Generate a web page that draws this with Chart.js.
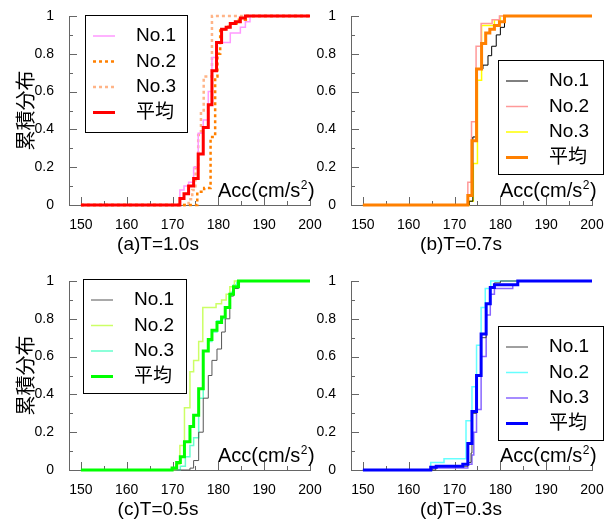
<!DOCTYPE html>
<html lang="ja">
<head>
  <meta charset="UTF-8" />
  <title>累積分布</title>
  <style>
    body {
      margin: 0;
      width: 605px;
      height: 525px;
      overflow: hidden;
      position: relative;
      background: #fff;
    }
    canvas {
      position: absolute;
    }
  </style>
</head>
<body>
  <canvas id="chartA" width="330" height="262" style="left:0;top:0"></canvas>
  <canvas id="chartB" width="303" height="262" style="left:302px;top:0"></canvas>
  <canvas id="chartC" width="330" height="262" style="left:0;top:265px"></canvas>
  <canvas id="chartD" width="303" height="262" style="left:302px;top:265px"></canvas>

  <script src="https://cdn.jsdelivr.net/npm/chart.js"></script>
  <script>
    const seriesNames = ['No.1', 'No.2', 'No.3', '平均'];
    const captions = ['(a)T=1.0s', '(b)T=0.7s', '(c)T=0.5s', '(d)T=0.3s'];
    const xTicks = [150, 160, 170, 180, 190, 200];
    const yTitle = '累積分布';

    // (a) T=1.0s
    const aNo1Acc = [150, 171.6, 172.5, 173.5, 174.6, 175.6, 176.7, 177.8, 178.6, 179.6, 182.6, 184.8, 185.9, 186.9, 200];
    const aNo1Cdf = [0, 0.08, 0.10, 0.12, 0.20, 0.38, 0.45, 0.60, 0.78, 0.86, 0.91, 0.94, 0.97, 1, 1];
    const aNo2Acc = [150, 175.4, 176.9, 178.3, 179.3, 179.8, 180.4, 182.2, 184.0, 186.0, 200];
    const aNo2Cdf = [0, 0.07, 0.09, 0.36, 0.68, 0.80, 0.93, 0.96, 0.98, 1, 1];
    const aNo3Acc = [150, 173.5, 174.3, 175.0, 175.6, 176.2, 176.8, 178.6, 200];
    const aNo3Cdf = [0, 0.03, 0.08, 0.20, 0.37, 0.50, 0.68, 1, 1];
    const aAvgAcc = [150, 171.6, 172.5, 173.5, 174.6, 175.6, 176.7, 177.8, 178.6, 179.6, 180.7, 181.7, 182.6, 183.7, 184.8, 185.9, 200];
    const aAvgCdf = [0, 0.035, 0.06, 0.10, 0.14, 0.27, 0.41, 0.53, 0.71, 0.86, 0.93, 0.94, 0.96, 0.97, 0.99, 1, 1];

    // (b) T=0.7s
    const bNo1Acc = [150, 173.2, 174.0, 174.8, 176.2, 177.3, 178.1, 179.1, 180.0, 180.9, 200];
    const bNo1Cdf = [0, 0.02, 0.36, 0.72, 0.74, 0.79, 0.84, 0.90, 0.94, 1, 1];
    const bNo2Acc = [150, 172.9, 173.7, 174.7, 175.8, 178.2, 179.8, 200];
    const bNo2Cdf = [0, 0.12, 0.44, 0.84, 0.96, 0.98, 1, 1];
    const bNo3Acc = [150, 173.2, 174.1, 175.0, 175.9, 178.7, 180.0, 200];
    const bNo3Cdf = [0, 0.02, 0.22, 0.66, 0.95, 0.98, 1, 1];
    const bAvgAcc = [150, 172.9, 173.8, 174.8, 175.9, 176.8, 177.7, 178.7, 179.8, 180.9, 200];
    const bAvgCdf = [0, 0.05, 0.34, 0.72, 0.855, 0.91, 0.93, 0.95, 0.97, 1, 1];

    // (c) T=0.5s
    const cNo1Acc = [150, 173.8, 174.6, 175.7, 176.7, 177.8, 178.6, 179.7, 180.7, 181.5, 182.5, 183.3, 184.4, 200];
    const cNo1Cdf = [0, 0.01, 0.05, 0.20, 0.38, 0.50, 0.58, 0.64, 0.73, 0.80, 0.92, 0.96, 1, 1];
    const cNo2Acc = [150, 170.7, 171.6, 172.6, 173.8, 174.6, 175.7, 176.6, 179.5, 180.7, 181.7, 182.5, 183.5, 200];
    const cNo2Cdf = [0, 0.03, 0.13, 0.33, 0.52, 0.58, 0.68, 0.86, 0.88, 0.90, 0.93, 0.97, 1, 1];
    const cNo3Acc = [150, 171.7, 172.8, 173.8, 174.6, 175.7, 176.7, 177.8, 178.6, 179.7, 180.7, 181.5, 182.5, 183.3, 184.0, 200];
    const cNo3Cdf = [0, 0.02, 0.07, 0.13, 0.17, 0.38, 0.63, 0.68, 0.73, 0.79, 0.80, 0.86, 0.94, 0.98, 1, 1];
    const cAvgAcc = [150, 169.9, 170.9, 171.7, 172.6, 173.8, 174.6, 175.7, 176.7, 177.8, 178.6, 179.7, 180.7, 181.5, 182.5, 183.3, 184.4, 200];
    const cAvgCdf = [0, 0.01, 0.04, 0.07, 0.15, 0.23, 0.29, 0.43, 0.63, 0.69, 0.74, 0.78, 0.81, 0.86, 0.93, 0.97, 1, 1];

    // (d) T=0.3s
    const dNo1Acc = [150, 165.9, 172.9, 173.6, 173.8, 174.8, 175.8, 176.9, 177.8, 178.7, 180.0, 200];
    const dNo1Cdf = [0, 0.02, 0.04, 0.09, 0.30, 0.50, 0.70, 0.88, 0.97, 0.99, 1, 1];
    const dNo2Acc = [150, 164.8, 167.7, 172.5, 173.8, 174.8, 175.8, 176.7, 177.9, 200];
    const dNo2Cdf = [0, 0.04, 0.06, 0.26, 0.44, 0.66, 0.86, 0.96, 1, 1];
    const dNo3Acc = [150, 165.0, 172.9, 173.8, 174.2, 174.8, 175.8, 176.9, 177.8, 178.7, 182.7, 183.8, 200];
    const dNo3Cdf = [0, 0.01, 0.03, 0.08, 0.20, 0.32, 0.60, 0.82, 0.93, 0.96, 0.98, 1, 1];
    const dAvgAcc = [150, 164.8, 166.0, 171.8, 172.9, 173.8, 174.8, 175.8, 176.9, 177.8, 178.7, 183.8, 200];
    const dAvgCdf = [0, 0.015, 0.02, 0.03, 0.14, 0.31, 0.50, 0.72, 0.88, 0.965, 0.98, 1, 1];

    const FONT = "'Liberation Sans', Arial, 'Noto Sans CJK JP', sans-serif";
    Chart.defaults.font.family = FONT;
    Chart.defaults.color = '#000';

    function pts(acc, cdf) {
      return acc.map((x, i) => ({ x: x, y: cdf[i] }));
    }

    // inward tick marks on the left and bottom axes
    const innerTicks = {
      id: 'innerTicks',
      beforeDatasetsDraw(chart) {
        const { ctx, chartArea, scales: { x, y } } = chart;
        ctx.save();
        ctx.strokeStyle = '#666';
        ctx.lineWidth = 1;
        ctx.beginPath();
        for (let v = 150; v <= 200; v += 5) {
          const px = Math.round(x.getPixelForValue(v)) + 0.5;
          const len = v % 10 === 0 ? 8 : 4;
          ctx.moveTo(px, chartArea.bottom);
          ctx.lineTo(px, chartArea.bottom - len);
        }
        for (let i = 0; i <= 10; i++) {
          const py = Math.round(y.getPixelForValue(i / 10)) + 0.5;
          const len = i % 2 === 0 ? 8 : 4;
          ctx.moveTo(chartArea.left, py);
          ctx.lineTo(chartArea.left + len, py);
        }
        ctx.stroke();
        ctx.restore();
      }
    };

    // boxed legend placed inside the plot
    const boxLegend = {
      id: 'boxLegend',
      afterDatasetsDraw(chart, args, opts) {
        const ctx = chart.ctx;
        ctx.save();
        ctx.fillStyle = '#fff';
        ctx.fillRect(opts.x, opts.y, opts.w, opts.h);
        ctx.strokeStyle = '#000';
        ctx.lineWidth = 1;
        ctx.strokeRect(opts.x + 0.5, opts.y + 0.5, opts.w, opts.h);
        ctx.font = '19px ' + FONT;
        ctx.textBaseline = 'middle';
        chart.data.datasets.forEach((ds, i) => {
          const cy = opts.y + 21 + i * 25.5;
          ctx.strokeStyle = ds.borderColor;
          ctx.lineWidth = ds.borderWidth;
          ctx.setLineDash(ds.borderDash || []);
          ctx.beginPath();
          ctx.moveTo(opts.x + 8, cy);
          ctx.lineTo(opts.x + 30, cy);
          ctx.stroke();
          ctx.setLineDash([]);
          ctx.fillStyle = '#000';
          ctx.fillText(ds.label, opts.x + 51, cy);
        });
        ctx.restore();
      }
    };

    // axis label inside the plot and the panel caption
    const panelText = {
      id: 'panelText',
      afterDatasetsDraw(chart, args, opts) {
        const { ctx, chartArea } = chart;
        ctx.save();
        ctx.fillStyle = '#000';
        ctx.textBaseline = 'alphabetic';
        ctx.textAlign = 'left';
        let x = chartArea.right - 92;
        const base = chartArea.bottom - 8;
        ctx.font = '20px ' + FONT;
        ctx.fillText('Acc(cm/s', x, base);
        x += ctx.measureText('Acc(cm/s').width;
        ctx.font = '12px ' + FONT;
        ctx.fillText('2', x + 0.5, base - 8);
        x += ctx.measureText('2').width + 1;
        ctx.font = '20px ' + FONT;
        ctx.fillText(')', x, base);

        ctx.font = '19px ' + FONT;
        ctx.textAlign = 'center';
        ctx.textBaseline = 'middle';
        ctx.fillText(opts.caption, opts.capX, opts.capY);
        ctx.restore();
      }
    };

    function makeChart(id, cfg) {
      const datasets = cfg.series.map((s, i) => ({
        label: seriesNames[i],
        data: s,
        borderColor: cfg.styles[i].color,
        borderWidth: cfg.styles[i].width,
        borderDash: cfg.styles[i].dash || [],
        stepped: true,
        pointRadius: 0,
        fill: false,
        clip: false,
        order: i === 3 ? 0 : i + 1
      }));

      return new Chart(document.getElementById(id), {
        type: 'line',
        data: { datasets: datasets },
        options: {
          responsive: false,
          animation: false,
          events: [],
          layout: { padding: { top: 16, right: cfg.padRight, left: 0, bottom: 0 } },
          plugins: {
            legend: { display: false },
            tooltip: { enabled: false },
            boxLegend: cfg.legend,
            panelText: { caption: cfg.caption, capX: cfg.capX, capY: 245 }
          },
          scales: {
            x: {
              type: 'linear',
              min: 147.4,
              max: 200,
              grid: { display: false },
              border: { display: true, color: '#666' },
              afterBuildTicks: s => { s.ticks = xTicks.map(v => ({ value: v })); },
              afterFit: s => { s.height = 57; s.paddingLeft = 0; s.paddingRight = 0; },
              ticks: { font: { size: 14 }, color: '#000', padding: 4, maxRotation: 0, autoSkip: false }
            },
            y: {
              min: 0,
              max: 1,
              grid: { display: false },
              border: { display: true, color: '#666' },
              afterFit: s => { s.width = cfg.yWidth; s.paddingTop = 0; s.paddingBottom = 0; },
              ticks: {
                stepSize: 0.2,
                font: { size: 14 },
                color: '#000',
                padding: 7,
                callback: v => String(Math.round(v * 10) / 10)
              },
              title: {
                display: cfg.showTitle,
                text: yTitle,
                font: { size: 20 },
                color: '#000',
                padding: { top: 15, bottom: 0 }
              }
            }
          }
        },
        plugins: [innerTicks, boxLegend, panelText]
      });
    }

    makeChart('chartA', {
      caption: captions[0], capX: 158, yWidth: 69, padRight: 20, showTitle: true,
      series: [pts(aNo1Acc, aNo1Cdf), pts(aNo2Acc, aNo2Cdf), pts(aNo3Acc, aNo3Cdf), pts(aAvgAcc, aAvgCdf)],
      styles: [
        { color: '#ff99ff', width: 1.5 },
        { color: '#ff8000', width: 2.5, dash: [3, 3] },
        { color: '#ffb487', width: 2.5, dash: [3, 3] },
        { color: '#ff0000', width: 3 }
      ],
      legend: { x: 85, y: 15, w: 102, h: 117 }
    });

    makeChart('chartB', {
      caption: captions[1], capX: 159, yWidth: 49, padRight: 13, showTitle: false,
      series: [pts(bNo1Acc, bNo1Cdf), pts(bNo2Acc, bNo2Cdf), pts(bNo3Acc, bNo3Cdf), pts(bAvgAcc, bAvgCdf)],
      styles: [
        { color: '#000000', width: 1 },
        { color: '#ff9999', width: 1.5 },
        { color: '#ffff00', width: 1.5 },
        { color: '#ff8000', width: 3 }
      ],
      legend: { x: 196, y: 60, w: 105, h: 114 }
    });

    makeChart('chartC', {
      caption: captions[2], capX: 158, yWidth: 69, padRight: 20, showTitle: true,
      series: [pts(cNo1Acc, cNo1Cdf), pts(cNo2Acc, cNo2Cdf), pts(cNo3Acc, cNo3Cdf), pts(cAvgAcc, cAvgCdf)],
      styles: [
        { color: '#555555', width: 1 },
        { color: '#ccff66', width: 1.5 },
        { color: '#66ffcc', width: 1.5 },
        { color: '#00ff00', width: 3 }
      ],
      legend: { x: 83, y: 14, w: 103, h: 114 }
    });

    makeChart('chartD', {
      caption: captions[3], capX: 159, yWidth: 49, padRight: 13, showTitle: false,
      series: [pts(dNo1Acc, dNo1Cdf), pts(dNo2Acc, dNo2Cdf), pts(dNo3Acc, dNo3Cdf), pts(dAvgAcc, dAvgCdf)],
      styles: [
        { color: '#404040', width: 1 },
        { color: '#66ffff', width: 1.5 },
        { color: '#8866ff', width: 1.5 },
        { color: '#0000ff', width: 3 }
      ],
      legend: { x: 196, y: 61, w: 105, h: 114 }
    });
  </script>
</body>
</html>
